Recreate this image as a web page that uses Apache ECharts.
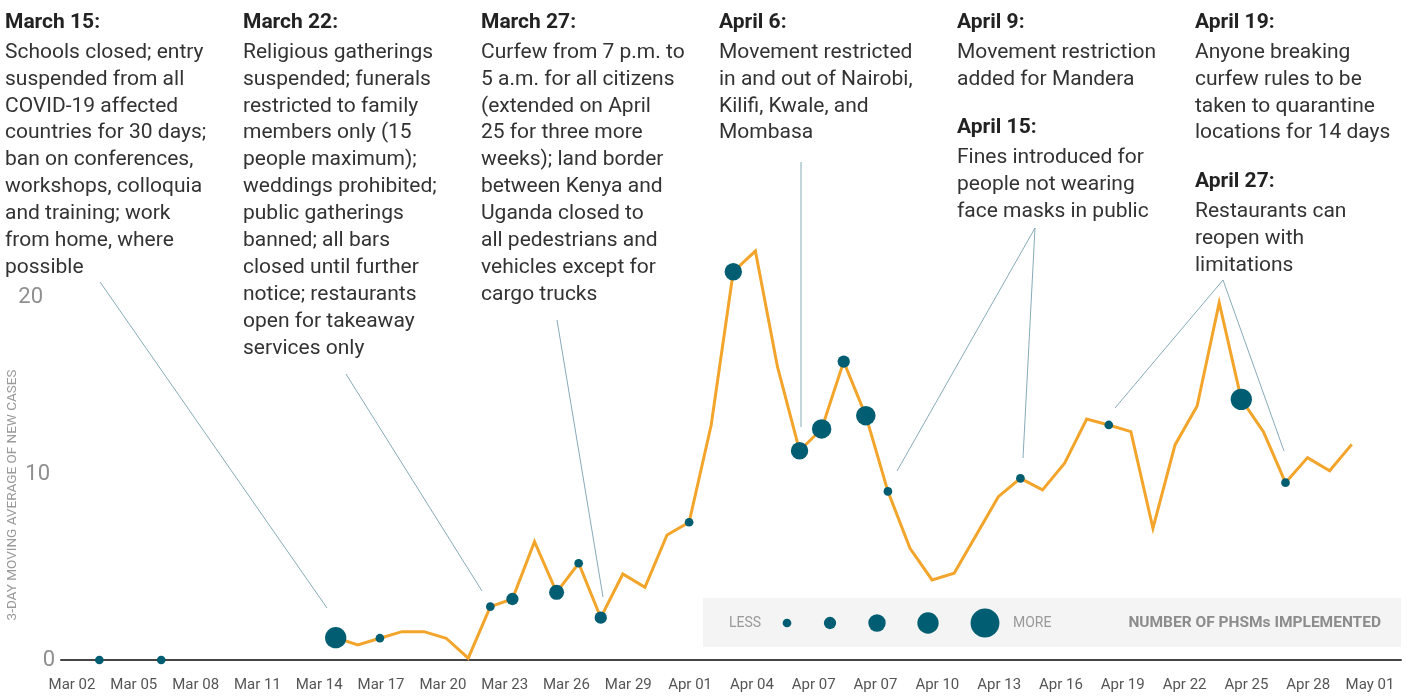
<!DOCTYPE html>
<html><head><meta charset="utf-8">
<script src="https://cdn.jsdelivr.net/npm/echarts@6/dist/echarts.min.js"></script>
<style>html,body{margin:0;padding:0;background:#fff}#c{width:1418px;height:696px}</style>
</head><body><div id="c"></div>
<script>
// x tick labels (as printed in the original, incl. the repeated "Apr 07")
const xTickLabels = ['Mar 02','Mar 05','Mar 08','Mar 11','Mar 14','Mar 17','Mar 20','Mar 23','Mar 26','Mar 29','Apr 01','Apr 04','Apr 07','Apr 07','Apr 10','Apr 13','Apr 16','Apr 19','Apr 22','Apr 25','Apr 28','May 01'];
const yTickValues = [0, 10, 20];
// day numbers counted from "Mar 0" (Mar 15 = 15, Apr 1 = 32)
const lineStartDay = 15;
// 3-day moving average of new cases, one value per day from Mar 15 to Apr 30
const lineValues = [1.23,0.83,1.2,1.56,1.56,1.2,0.1,2.94,3.36,6.52,3.73,5.33,2.33,4.74,4.0,6.89,7.59,
  12.95,21.39,22.53,16.16,11.53,12.73,16.44,13.46,9.29,6.15,4.41,4.78,6.89,9.0,10.01,9.37,10.84,13.28,
  12.95,12.58,7.26,11.85,13.99,19.69,14.36,12.58,9.77,11.15,10.43,11.88];
// days on which public health & social measures (PHSMs) were implemented, and how many
const dotDays   = [4.3, 7.1, 15, 17, 22, 23, 25, 26, 27, 31, 33, 36, 37, 38, 39, 40, 46, 50, 56, 58];
const dotCounts = [1,   1,   6,  1,  1,  2,  3,  1,  2,  1,  4,  4,  5,  2,  5,  1,  1,  1,  6,  1];
const legendCounts = [1, 2, 4, 6, 11];

const annotations = [
  {x:5,    y:22,  title:'March 15:', body:['Schools closed; entry','suspended from all','COVID-19 affected','countries for 30 days;','ban on conferences,','workshops, colloquia','and training; work','from home, where','possible']},
  {x:243,  y:22,  title:'March 22:', body:['Religious gatherings','suspended; funerals','restricted to family','members only (15','people maximum);','weddings prohibited;','public gatherings','banned; all bars','closed until further','notice; restaurants','open for takeaway','services only']},
  {x:481,  y:22,  title:'March 27:', body:['Curfew from 7 p.m. to','5 a.m. for all citizens','(extended on April','25 for three more','weeks); land border','between Kenya and','Uganda closed to','all pedestrians and','vehicles except for','cargo trucks']},
  {x:719,  y:22,  title:'April 6:', body:['Movement restricted','in and out of Nairobi,','Kilifi, Kwale, and','Mombasa']},
  {x:957,  y:22,  title:'April 9:', body:['Movement restriction','added for Mandera']},
  {x:957,  y:127, title:'April 15:', body:['Fines introduced for','people not wearing','face masks in public']},
  {x:1195, y:22,  title:'April 19:', body:['Anyone breaking','curfew rules to be','taken to quarantine','locations for 14 days']},
  {x:1195, y:181, title:'April 27:', body:['Restaurants can','reopen with','limitations']}
];
const leaders = [
  [100,282,327,608],[346,374,482,591],[557,320,603,597],[801,162,801,427],
  [1035,228,897,471],[1035,228,1023,458],[1223,280,1115,408],[1223,280,1284,451]
];

const sizeFn = c => 8.7 * Math.sqrt(c);
const FONT = 'Roboto, "Noto Sans", sans-serif';
const TEAL = '#015e72', ORANGE = '#f3a52b';

const lineData = lineValues.map((v, i) => [lineStartDay + i, v]);
const dotData = dotDays.map((d, i) => {
  const idx = d - lineStartDay;
  const v = (Number.isInteger(d) && idx >= 0 && idx < lineValues.length) ? lineValues[idx] : 0;
  return [d, v, dotCounts[i]];
});

const graphics = [];
annotations.forEach(a => {
  graphics.push({type:'text', left:a.x, top:a.y-10, z:10, style:{text:a.title, font:'bold 21px ' + FONT, fill:'#222'}});
  graphics.push({type:'text', left:a.x, top:a.y+17, z:10, style:{text:a.body.join('\n'), font:'21px ' + FONT, fill:'#333', lineHeight:26.9}});
});
leaders.forEach(l => graphics.push({type:'line', z:5, shape:{x1:l[0],y1:l[1],x2:l[2],y2:l[3]}, style:{stroke:'#86abb8', lineWidth:1}}));
graphics.push({type:'rect', z:1, shape:{x:703,y:598,width:698,height:49}, style:{fill:'#f4f4f4'}});
graphics.push({type:'text', z:2, x:729, y:623, style:{text:'LESS', font:'14px ' + FONT, fill:'#999', verticalAlign:'middle'}});
const legX = [787, 830, 877, 928, 985];
legendCounts.forEach((c, i) => graphics.push({type:'circle', z:2, shape:{cx:legX[i], cy:623, r:sizeFn(c)/2}, style:{fill:TEAL}}));
graphics.push({type:'text', z:2, x:1013, y:623, style:{text:'MORE', font:'14px ' + FONT, fill:'#999', verticalAlign:'middle'}});
graphics.push({type:'text', z:2, x:1381, y:623, style:{text:'NUMBER OF PHSMs IMPLEMENTED', font:'bold 15.5px ' + FONT, fill:'#8c8c8c', align:'right', verticalAlign:'middle'}});
graphics.push({type:'text', z:2, x:13, y:495, rotation:Math.PI/2, style:{text:'3-DAY MOVING AVERAGE OF NEW CASES', font:'13.5px ' + FONT, fill:'#9a9a9a', align:'center', verticalAlign:'middle'}});

const chart = echarts.init(document.getElementById('c'), null, {renderer:'canvas'});
chart.setOption({
  animation:false,
  textStyle:{fontFamily:FONT},
  grid:[
    {left:61, right:17, top:297, bottom:36, containLabel:false},
    {left:72, right:48, top:297, bottom:36, containLabel:false}
  ],
  xAxis:[
    {type:'value', gridIndex:0, min:2.563, max:63.23, axisLine:{show:true, lineStyle:{color:'#464646', width:2}}, axisTick:{show:false}, axisLabel:{show:false}, splitLine:{show:false}},
    {type:'category', gridIndex:1, boundaryGap:false, data:xTickLabels.map((_, i) => String(i)), axisLine:{show:false}, axisTick:{show:false}, splitLine:{show:false},
     axisLabel:{interval:0, margin:18, fontSize:15, color:'#555', fontFamily:FONT, formatter:v => xTickLabels[+v]}}
  ],
  yAxis:[
    {type:'value', gridIndex:0, min:0, max:20, interval:10, axisLine:{show:false}, axisTick:{show:false}, splitLine:{show:false},
     axisLabel:{margin:6, formatter:v => v === 0 ? '{z|0}' : (v === 10 ? '{t|10}' : '{w|20}'),
       rich:{z:{fontSize:22, color:'#8f8f8f', padding:[0,0,0,0]}, t:{fontSize:22, color:'#8f8f8f', padding:[0,5,8,0]}, w:{fontSize:22, color:'#8f8f8f', padding:[0,12,0,0]}}}},
    {type:'value', gridIndex:1, min:0, max:20, show:false}
  ],
  series:[
    {type:'line', xAxisIndex:0, yAxisIndex:0, data:lineData, showSymbol:false, symbol:'none', clip:false, z:3,
     lineStyle:{color:ORANGE, width:3, join:'miter'}},
    {type:'scatter', xAxisIndex:0, yAxisIndex:0, data:dotData, clip:false, z:4,
     symbolSize:v => sizeFn(v[2]), itemStyle:{color:TEAL, opacity:1}}
  ],
  graphic:graphics
});
</script></body></html>
